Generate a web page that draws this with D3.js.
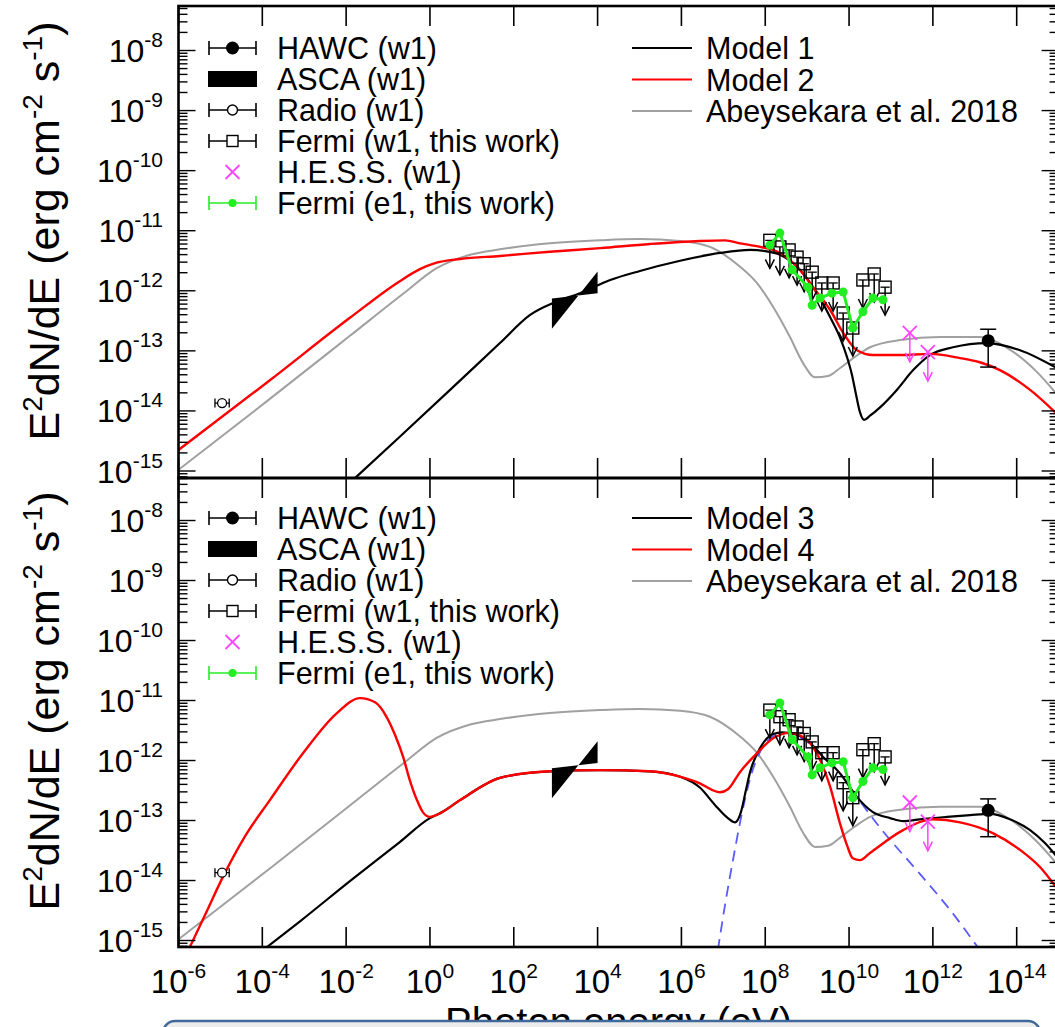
<!DOCTYPE html>
<html>
<head>
<meta charset="utf-8">
<script src="https://cdn.jsdelivr.net/npm/d3@7"></script>
<style>
  body { margin: 0; background: #fff; }
  svg { display: block; }
  text { font-family: "Liberation Sans", Arial, Helvetica, sans-serif; fill: #000; }
</style>
</head>
<body>
<svg id="chart" width="1055" height="1027"></svg>
<script>
// ---- data (log10 of photon energy in eV, log10 of E^2 dN/dE in erg cm^-2 s^-1) ----
const xTickExps = [-6, -4, -2, 0, 2, 4, 6, 8, 10, 12, 14]
const yTickExps = [-8, -9, -10, -11, -12, -13, -14, -15]

const pointNames = ['HAWC (w1)', 'ASCA (w1)', 'Radio (w1)', 'Fermi (w1, this work)', 'H.E.S.S. (w1)', 'Fermi (e1, this work)']
const modelNamesTop = ['Model 1', 'Model 2', 'Abeysekara et al. 2018']
const modelNamesBottom = ['Model 3', 'Model 4', 'Abeysekara et al. 2018']

const abeyLogE = [-6.00, -3.82, -1.91, -0.64, 0.17, 0.96, 1.67, 2.86, 4.06, 5.01, 5.97, 6.68, 7.40, 7.80, 8.19, 8.59, 8.90, 9.19, 9.50, 9.78, 10.14, 10.50, 11.22, 12.17, 13.12, 13.77, 14.48, 14.99]
const abeyLogF = [-14.98, -13.80, -12.75, -12.05, -11.62, -11.40, -11.31, -11.21, -11.16, -11.14, -11.17, -11.27, -11.60, -11.87, -12.27, -12.77, -13.20, -13.44, -13.42, -13.29, -13.10, -12.94, -12.82, -12.77, -12.77, -12.95, -13.35, -13.75]

const model1LogE = [-1.79, -0.72, 0.48, 1.67, 2.39, 2.98, 3.58, 4.30, 5.01, 5.97, 6.92, 7.64, 8.00, 8.35, 8.76, 9.14, 9.55, 9.78, 9.95, 10.07, 10.17, 10.26, 10.36, 10.50, 10.74, 11.14, 11.53, 11.93, 12.48, 13.29, 14.08, 14.99]
const model1LogF = [-15.12, -14.43, -13.65, -12.87, -12.40, -12.19, -12.04, -11.82, -11.67, -11.50, -11.37, -11.32, -11.34, -11.40, -11.60, -11.94, -12.44, -12.77, -13.10, -13.40, -13.74, -14.02, -14.15, -14.08, -13.94, -13.65, -13.32, -13.07, -12.94, -12.87, -12.99, -13.30]

const model2LogE = [-6.00, -3.82, -1.91, -0.72, -0.24, 0.12, 0.72, 1.67, 2.86, 4.06, 5.25, 6.44, 7.04, 7.40, 7.88, 8.35, 8.76, 9.14, 9.55, 9.86, 10.19, 10.57, 11.22, 11.93, 12.65, 13.12, 13.60, 14.32, 14.99]
const model2LogF = [-14.65, -13.49, -12.45, -11.84, -11.64, -11.54, -11.47, -11.42, -11.35, -11.29, -11.22, -11.17, -11.16, -11.21, -11.27, -11.37, -11.60, -11.94, -12.32, -12.70, -12.99, -13.07, -13.07, -13.05, -13.12, -13.19, -13.32, -13.65, -14.07]

const model3LogE = [-3.89, -3.10, -1.91, -0.72, 0.00, 0.24, 0.72, 1.67, 2.86, 4.06, 5.25, 5.97, 6.44, 6.80, 7.11, 7.28, 7.42, 7.54, 7.64, 7.88, 8.19, 8.40, 8.71, 9.00, 9.38, 9.78, 10.19, 10.57, 10.98, 11.29, 11.69, 12.34, 12.89, 13.36, 13.84, 14.32, 14.68, 14.99]
const model3LogF = [-15.11, -14.68, -14.01, -13.36, -12.96, -12.88, -12.66, -12.29, -12.18, -12.16, -12.18, -12.27, -12.45, -12.74, -12.96, -13.03, -12.86, -12.49, -12.19, -11.79, -11.56, -11.53, -11.56, -11.66, -11.94, -12.21, -12.61, -12.86, -12.96, -13.01, -12.98, -12.94, -12.91, -12.89, -12.98, -13.16, -13.38, -13.63]

const model4LogE = [-5.73, -5.37, -4.94, -4.41, -3.82, -3.03, -2.22, -1.67, -1.31, -1.03, -0.83, -0.64, -0.48, -0.31, -0.17, 0.00, 0.24, 0.72, 1.67, 2.86, 4.06, 5.25, 5.97, 6.44, 6.73, 6.92, 7.11, 7.40, 7.80, 8.19, 8.59, 9.00, 9.31, 9.55, 9.78, 9.95, 10.09, 10.26, 10.50, 11.29, 12.00, 12.65, 13.43, 14.08, 14.56, 14.99]
const model4LogF = [-15.11, -14.58, -13.94, -13.26, -12.66, -11.88, -11.21, -10.96, -11.03, -11.28, -11.58, -11.94, -12.33, -12.66, -12.86, -12.94, -12.88, -12.66, -12.29, -12.18, -12.16, -12.18, -12.27, -12.38, -12.49, -12.53, -12.48, -12.19, -11.88, -11.63, -11.54, -11.66, -11.99, -12.44, -13.04, -13.41, -13.63, -13.66, -13.54, -13.16, -12.98, -13.03, -13.21, -13.49, -13.78, -14.16]

// dashed blue component, lower panel only
const compLogE = [6.87, 7.04, 7.23, 7.40, 7.64, 7.88, 8.19, 8.47, 8.83, 9.31, 9.78, 10.19, 10.74, 11.69, 12.41, 13.12]
const compLogF = [-15.16, -14.41, -13.66, -13.03, -12.30, -11.85, -11.60, -11.54, -11.61, -11.88, -12.21, -12.61, -13.12, -13.89, -14.49, -15.16]

const fermiW1LogE = [8.11, 8.35, 8.57, 8.76, 8.93, 9.12, 9.35, 9.62, 9.86, 10.09, 10.33, 10.60, 10.86]
const fermiW1LogF = [-11.16, -11.27, -11.32, -11.44, -11.55, -11.69, -11.87, -11.87, -12.37, -12.62, -11.82, -11.72, -11.94]

const fermiE1LogE = [8.11, 8.35, 8.64, 9.02, 9.12, 9.31, 9.59, 9.86, 10.09, 10.33, 10.57, 10.81]
const fermiE1LogF = [-11.24, -11.04, -11.65, -11.94, -12.24, -12.12, -12.04, -12.02, -12.62, -12.35, -12.12, -12.15]

const hessLogE = [11.45, 11.88]
const hessLogF = [-12.70, -13.02]

const hawcLogE = [13.32]
const hawcLogF = [-12.83]
const hawcLogFHi = [-12.64]
const hawcLogFLo = [-13.27]

const radioLogE = [-4.96]
const radioLogELo = [-5.13]
const radioLogEHi = [-4.79]
const radioLogF = [-13.87]

const ascaLogE = [2.91, 4.00]
const ascaSteepLogF = [-12.63, -11.68]
const ascaFlatLogF = [-12.13, -12.04]

// ---- layout ----
const svg = d3.select('#chart')
const left = 178.5, right = 1058.6
const x = d3.scaleLog().domain([1e-6, 1e15]).range([left, right])
const pw = v => Math.pow(10, v)
const zip = (a, b) => a.map((v, i) => [v, b[i]])

const RED = '#ff0000', GRAY = '#a0a0a0', GREEN = '#22ee22', MAGENTA = '#ff44ff', BLUE = '#5a5aff'

const panels = [
  { top: 6, bottom: 478, y: d3.scaleLog().domain([1e-15, 1e-8]).range([471, 50.5]),
    black: zip(model1LogE, model1LogF), red: zip(model2LogE, model2LogF), comp: null,
    names: modelNamesTop, legendY: 48, titleY: 231 },
  { top: 478, bottom: 947, y: d3.scaleLog().domain([1e-15, 1e-8]).range([940.5, 520.5]),
    black: zip(model3LogE, model3LogF), red: zip(model4LogE, model4LogF), comp: zip(compLogE, compLogF),
    names: modelNamesBottom, legendY: 518, titleY: 701 },
]

const defs = svg.append('defs')

function supLabel(sel, base, exp, size, supSize, raise) {
  sel.append('tspan').text(base).attr('font-size', size)
  sel.append('tspan').text(exp).attr('font-size', supSize).attr('dy', -raise)
}

function downArrow(g, cx, cy, len, color) {
  g.append('line').attr('x1', cx).attr('x2', cx).attr('y1', cy).attr('y2', cy + len)
    .attr('stroke', color).attr('stroke-width', 1.5)
  g.append('polyline')
    .attr('points', `${cx - 4.5},${cy + len - 9} ${cx},${cy + len} ${cx + 4.5},${cy + len - 9}`)
    .attr('fill', 'none').attr('stroke', color).attr('stroke-width', 1.5)
}

panels.forEach((p, pi) => {
  const y = p.y
  const clipId = 'clip' + pi
  defs.append('clipPath').attr('id', clipId)
    .append('rect').attr('x', left).attr('y', p.top).attr('width', right - left).attr('height', p.bottom - p.top)

  const plot = svg.append('g').attr('clip-path', `url(#${clipId})`)
  const line = d3.line().x(d => x(pw(d[0]))).y(d => y(pw(d[1]))).curve(d3.curveMonotoneX)

  plot.append('path').attr('d', line(zip(abeyLogE, abeyLogF)))
    .attr('fill', 'none').attr('stroke', GRAY).attr('stroke-width', 2)
  if (p.comp) {
    plot.append('path').attr('d', line(p.comp))
      .attr('fill', 'none').attr('stroke', BLUE).attr('stroke-width', 1.8).attr('stroke-dasharray', '11,7')
  }
  plot.append('path').attr('d', line(p.black))
    .attr('fill', 'none').attr('stroke', '#000').attr('stroke-width', 2.2)
  plot.append('path').attr('d', line(p.red))
    .attr('fill', 'none').attr('stroke', RED).attr('stroke-width', 2.4)

  // ASCA butterfly
  const bx0 = x(pw(ascaLogE[0])), bx1 = x(pw(ascaLogE[1]))
  plot.append('path')
    .attr('d', `M${bx0},${y(pw(ascaSteepLogF[0]))}L${bx1},${y(pw(ascaSteepLogF[1]))}L${bx1},${y(pw(ascaFlatLogF[1]))}L${bx0},${y(pw(ascaFlatLogF[0]))}Z`)
    .attr('fill', '#000').attr('fill-rule', 'evenodd')

  // radio
  radioLogE.forEach((e, i) => {
    const cy = y(pw(radioLogF[i])), xl = x(pw(radioLogELo[i])), xr = x(pw(radioLogEHi[i]))
    plot.append('line').attr('x1', xl).attr('x2', xr).attr('y1', cy).attr('y2', cy).attr('stroke', '#000').attr('stroke-width', 1.3)
    ;[xl, xr].forEach(xx => plot.append('line').attr('x1', xx).attr('x2', xx).attr('y1', cy - 4.5).attr('y2', cy + 4.5).attr('stroke', '#000').attr('stroke-width', 1.3))
    plot.append('circle').attr('cx', x(pw(e))).attr('cy', cy).attr('r', 4.5).attr('fill', '#fff').attr('stroke', '#000').attr('stroke-width', 1.3)
  })

  // Fermi w1 upper limits
  fermiW1LogE.forEach((e, i) => {
    const cx = x(pw(e)), cy = y(pw(fermiW1LogF[i]))
    plot.append('line').attr('x1', x(pw(e - 0.11))).attr('x2', x(pw(e + 0.11))).attr('y1', cy).attr('y2', cy)
      .attr('stroke', '#000').attr('stroke-width', 1.3)
    downArrow(plot, cx, cy, 28, '#000')
    plot.append('rect').attr('x', cx - 6).attr('y', cy - 6).attr('width', 12).attr('height', 12)
      .attr('fill', 'none').attr('stroke', '#000').attr('stroke-width', 1.4)
  })

  // Fermi e1
  const e1 = zip(fermiE1LogE, fermiE1LogF)
  plot.append('path').attr('d', d3.line().x(d => x(pw(d[0]))).y(d => y(pw(d[1])))(e1))
    .attr('fill', 'none').attr('stroke', GREEN).attr('stroke-width', 3)
  plot.selectAll(null).data(e1).join('circle')
    .attr('cx', d => x(pw(d[0]))).attr('cy', d => y(pw(d[1]))).attr('r', 4.5).attr('fill', GREEN)

  // H.E.S.S. upper limits
  hessLogE.forEach((e, i) => {
    const cx = x(pw(e)), cy = y(pw(hessLogF[i]))
    downArrow(plot, cx, cy, 29, MAGENTA)
    plot.append('path').attr('d', `M${cx - 7},${cy - 7}L${cx + 7},${cy + 7}M${cx - 7},${cy + 7}L${cx + 7},${cy - 7}`)
      .attr('stroke', MAGENTA).attr('stroke-width', 1.8)
  })

  // HAWC
  hawcLogE.forEach((e, i) => {
    const cx = x(pw(e)), yh = y(pw(hawcLogFHi[i])), yl = y(pw(hawcLogFLo[i]))
    plot.append('line').attr('x1', cx).attr('x2', cx).attr('y1', yh).attr('y2', yl).attr('stroke', '#000').attr('stroke-width', 1.5)
    ;[yh, yl].forEach(yy => plot.append('line').attr('x1', cx - 8).attr('x2', cx + 8).attr('y1', yy).attr('y2', yy).attr('stroke', '#000').attr('stroke-width', 1.5))
    plot.append('circle').attr('cx', cx).attr('cy', y(pw(hawcLogF[i]))).attr('r', 6.5).attr('fill', '#000')
  })

  // frame and ticks
  const axes = svg.append('g').attr('stroke', '#000')
  axes.append('rect').attr('x', left).attr('y', p.top).attr('width', right - left).attr('height', p.bottom - p.top)
    .attr('fill', 'none').attr('stroke-width', 2.6)
  xTickExps.forEach(k => {
    const xx = x(pw(k))
    axes.append('line').attr('x1', xx).attr('x2', xx).attr('y1', p.bottom).attr('y2', p.bottom - 20).attr('stroke-width', 1.6)
    axes.append('line').attr('x1', xx).attr('x2', xx).attr('y1', p.top).attr('y2', p.top + 20).attr('stroke-width', 1.6)
  })
  const yLo = y.invert(p.bottom), yHi = y.invert(p.top)
  for (let d = -16; d <= -7; d++) {
    for (let m = 1; m <= 9; m++) {
      const v = m * pw(d)
      if (v < yLo || v > yHi) continue
      const yy = y(v), len = m === 1 ? 17 : 9
      axes.append('line').attr('x1', left).attr('x2', left + len).attr('y1', yy).attr('y2', yy).attr('stroke-width', 1.4)
      axes.append('line').attr('x1', right).attr('x2', right - len).attr('y1', yy).attr('y2', yy).attr('stroke-width', 1.4)
    }
  }

  // y tick labels
  yTickExps.forEach(k => {
    const t = svg.append('text').attr('x', 163).attr('y', y(pw(k)) + 11.5).attr('text-anchor', 'end')
    supLabel(t, '10', String(k), 32, 21, 15)
  })

  // y title
  const title = svg.append('text').attr('text-anchor', 'middle').attr('font-size', 43)
    .attr('transform', `translate(59,${p.titleY}) rotate(-90)`)
  title.append('tspan').text('E')
  title.append('tspan').text('2').attr('font-size', 28).attr('dy', -17)
  title.append('tspan').text('dN/dE (erg cm').attr('dy', 17)
  title.append('tspan').text('-2').attr('font-size', 28).attr('dy', -17)
  title.append('tspan').text(' s').attr('dy', 17)
  title.append('tspan').text('-1').attr('font-size', 28).attr('dy', -17)
  title.append('tspan').text(')').attr('dy', 17)

  // legend: data points
  const lg = svg.append('g')
  const sx0 = 209, sx1 = 256, sc = 232.5
  pointNames.forEach((name, i) => {
    const cy = p.legendY + i * 31
    lg.append('text').attr('x', 277).attr('y', cy + 11).attr('font-size', 30.5).text(name)
    const barColor = i === 5 ? GREEN : '#000'
    if (i === 0 || i === 2 || i === 3 || i === 5) {
      lg.append('line').attr('x1', sx0).attr('x2', sx1).attr('y1', cy).attr('y2', cy).attr('stroke', barColor).attr('stroke-width', 1.6)
      ;[sx0, sx1].forEach(xx => lg.append('line').attr('x1', xx).attr('x2', xx).attr('y1', cy - 7).attr('y2', cy + 7).attr('stroke', barColor).attr('stroke-width', 1.6))
    }
    if (i === 0) lg.append('circle').attr('cx', sc).attr('cy', cy).attr('r', 6.5).attr('fill', '#000')
    if (i === 1) lg.append('rect').attr('x', 208).attr('y', cy - 8).attr('width', 49).attr('height', 16).attr('fill', '#000')
    if (i === 2) lg.append('circle').attr('cx', sc).attr('cy', cy).attr('r', 5).attr('fill', '#fff').attr('stroke', '#000').attr('stroke-width', 1.4)
    if (i === 3) lg.append('rect').attr('x', sc - 5.5).attr('y', cy - 5.5).attr('width', 11).attr('height', 11).attr('fill', '#fff').attr('stroke', '#000').attr('stroke-width', 1.4)
    if (i === 4) lg.append('path').attr('d', `M${sc - 7},${cy - 7}L${sc + 7},${cy + 7}M${sc - 7},${cy + 7}L${sc + 7},${cy - 7}`).attr('stroke', MAGENTA).attr('stroke-width', 1.8)
    if (i === 5) lg.append('circle').attr('cx', sc).attr('cy', cy).attr('r', 4).attr('fill', GREEN)
  })

  // legend: models
  const modelColors = ['#000', RED, GRAY]
  p.names.forEach((name, i) => {
    const cy = p.legendY + i * 31.5
    lg.append('line').attr('x1', 632).attr('x2', 692).attr('y1', cy).attr('y2', cy).attr('stroke', modelColors[i]).attr('stroke-width', 2.2)
    lg.append('text').attr('x', 706).attr('y', cy + 11).attr('font-size', 30.5).text(name)
  })
})

// x tick labels and title (lower panel only)
xTickExps.forEach(k => {
  const t = svg.append('text').attr('x', x(pw(k))).attr('y', 993).attr('text-anchor', 'middle')
  supLabel(t, '10', String(k), 33, 21, 15)
})
svg.append('text').attr('x', (left + right) / 2).attr('y', 1036).attr('text-anchor', 'middle')
  .attr('font-size', 40).text('Photon energy (eV)')

// overlay box at the bottom edge
svg.append('rect').attr('x', 163).attr('y', 1021).attr('width', 877).attr('height', 40).attr('rx', 12)
  .attr('fill', '#ececec').attr('stroke', '#40699a').attr('stroke-width', 2.5)
</script>
</body>
</html>
